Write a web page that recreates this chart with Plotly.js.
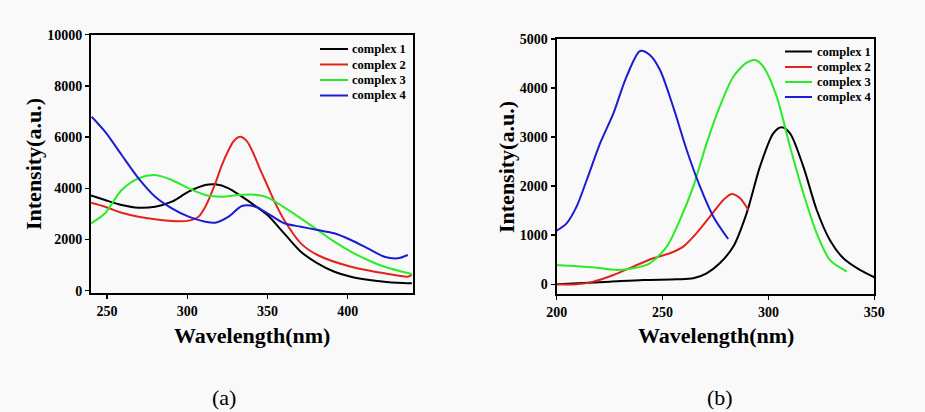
<!DOCTYPE html>
<html><head><meta charset="utf-8">
<script src="https://cdn.plot.ly/plotly-3.0.1.min.js"></script>
<style>html,body{margin:0;padding:0;background:#f9f9f9}#chart{width:925px;height:412px}</style>
</head><body><div id="chart"></div>
<script>
// Panel (a)
const a1x = [240,248.75,259.1,269.6,280,290.4,300.8,311.25,317.5,325.8,334.1,342.5,350,360.4,370.8,381.2,391.7,402,412.5,422.9,431,440];
const a1y = [3720,3543,3348,3242,3281,3477,3867,4129,4155,4000,3672,3307,2957,2240,1523,1070,742,547,430,352,310,289];
const a2x = [240,248.75,259.1,269.6,280,290.4,300.8,307,311.25,317.5,321.5,325.8,329,333,337,341,345,350,355,360.4,370.8,381.2,402,422.9,437.5,440];
const a2y = [3438,3281,3047,2891,2789,2723,2737,2891,3281,4195,4900,5496,5850,6010,5850,5400,4800,4100,3400,2760,1850,1395,938,680,547,625];
const a3x = [240,248.75,259.1,269.6,280,290.4,300.8,311.25,321.7,332.1,342.5,350,360.4,370.8,381.2,391.7,402,412.5,422.9,440];
const a3y = [2630,3023,3933,4390,4519,4324,4000,3738,3672,3738,3750,3648,3257,2828,2371,1914,1523,1199,938,652];
const a4x = [240.4,248.75,259.1,269.6,280,290.4,300.8,311.25,317.5,325.8,334.1,342.5,350,360.4,370.8,381.2,391.7,402,412.5,422.9,431.2,437.5];
const a4y = [6797,6211,5300,4390,3672,3217,2891,2695,2656,2891,3307,3281,3023,2633,2500,2371,2242,1980,1656,1328,1266,1395];
// Panel (b)
const b1x = [200,225.2,240.9,256.7,264.5,270.8,277,283.4,289.7,296,302.3,306.2,310.2,316.5,322.8,329,335.4,343.2,350];
const b1y = [0,54,88,102,122,224,428,768,1447,2398,3077,3200,3077,2398,1515,903,530,292,143];
const b2x = [200,209.4,217.3,226.8,236.2,245.6,253.5,259.8,266,272.4,278.7,282.6,286.6,290.5];
const b2y = [0,0,54,190,360,530,632,768,1039,1379,1719,1841,1753,1515];
const b3x = [200,217.3,228.3,236.2,244,252,258.2,264.5,270.8,277,283.4,289.7,293.7,297.6,303.9,310.2,316.5,322.8,329,337];
const b3y = [394,346,292,326,428,768,1311,1990,2873,3621,4232,4517,4572,4436,3824,2806,1855,1039,496,258];
const b4x = [200,204.7,209.4,214.2,220.5,226.8,233,239.4,244,248.8,255,261.4,267.7,274,281];
const b4y = [1094,1243,1583,2126,2873,3485,4232,4755,4674,4368,3621,2738,1990,1379,924];

const names = ['complex 1','complex 2','complex 3','complex 4'];
const colors = ['#000000','#e3241c','#27ec27','#1c1cd2'];
const aTicksX = [250,300,350,400];
const aTicksY = [0,2000,4000,6000,8000,10000];
const bTicksX = [200,250,300,350];
const bTicksY = [0,1000,2000,3000,4000,5000];
const aX=[a1x,a2x,a3x,a4x], aY=[a1y,a2y,a3y,a4y];
const bX=[b1x,b2x,b3x,b4x], bY=[b1y,b2y,b3y,b4y];

const traces = [];
for (let i=0;i<4;i++) traces.push({x:aX[i],y:aY[i],name:names[i],type:'scatter',mode:'lines',
  line:{color:colors[i],width:2,shape:'spline',smoothing:0.8},xaxis:'x',yaxis:'y',showlegend:false});
for (let i=0;i<4;i++) traces.push({x:bX[i],y:bY[i],name:names[i],type:'scatter',mode:'lines',
  line:{color:colors[i],width:2,shape:'spline',smoothing:0.8},xaxis:'x2',yaxis:'y2',showlegend:false});

const FAM = 'Liberation Serif';
const tf = {family:FAM,size:14,color:'#000',weight:'bold'};
const ax = (extra)=>Object.assign({showgrid:false,zeroline:false,showline:true,linecolor:'#000',linewidth:2,mirror:true,
  ticks:'outside',ticklen:4,tickwidth:1.5,tickcolor:'#000',tickfont:tf,tickmode:'array'},extra);
const lf = {family:FAM,size:12.5,color:'#000',weight:'bold'};
const titleFont = {family:FAM,size:22,color:'#000',weight:'bold'};
const capFont = {family:FAM,size:22,color:'#000'};

const ann = [
  {text:'<b>Intensity(a.u.)</b>',xref:'paper',yref:'paper',x:33/925,y:1-164/412,textangle:-90,showarrow:false,font:titleFont,xanchor:'center',yanchor:'middle'},
  {text:'<b>Wavelength(nm)</b>',xref:'paper',yref:'paper',x:252/925,y:1-335/412,showarrow:false,font:titleFont,xanchor:'center',yanchor:'middle'},
  {text:'<b>Intensity(a.u.)</b>',xref:'paper',yref:'paper',x:507/925,y:1-167/412,textangle:-90,showarrow:false,font:titleFont,xanchor:'center',yanchor:'middle'},
  {text:'<b>Wavelength(nm)</b>',xref:'paper',yref:'paper',x:716/925,y:1-335/412,showarrow:false,font:titleFont,xanchor:'center',yanchor:'middle'},
  {text:'(a)',xref:'paper',yref:'paper',x:224/925,y:1-397/412,showarrow:false,font:capFont,xanchor:'center',yanchor:'middle'},
  {text:'(b)',xref:'paper',yref:'paper',x:720/925,y:1-397/412,showarrow:false,font:capFont,xanchor:'center',yanchor:'middle'}
];
// compact legends (keys + labels) for both panels
const shapes = [];
const legA = {x0:320,x1:348,tx:350,y:[49,64.5,80,95.5]};
const legB = {x0:785,x1:812,tx:815,y:[51.5,67,82,97]};
[legA,legB].forEach(L=>{
  for (let i=0;i<4;i++){
    shapes.push({type:'line',xref:'paper',yref:'paper',x0:L.x0/925,x1:L.x1/925,y0:1-L.y[i]/412,y1:1-L.y[i]/412,line:{color:colors[i],width:2}});
    ann.push({text:'<b>'+names[i]+'</b>',xref:'paper',yref:'paper',x:L.tx/925,y:1-L.y[i]/412,showarrow:false,font:lf,xanchor:'left',yanchor:'middle'});
  }
});

const layout = {
  width:925,height:412,margin:{l:0,r:0,t:0,b:0},
  paper_bgcolor:'#f9f9f9',plot_bgcolor:'#f9f9f9',showlegend:false,
  xaxis: ax({domain:[0.0984,0.4461],range:[240,440.5],tickvals:aTicksX,ticktext:aTicksX.map(String),anchor:'y'}),
  yaxis: ax({domain:[0.2888,0.9158],range:[-90,10000],tickvals:aTicksY,ticktext:aTicksY.map(String),anchor:'x'}),
  xaxis2: ax({domain:[0.6018,0.9452],range:[200,350],tickvals:bTicksX,ticktext:bTicksX.map(String),anchor:'y2'}),
  yaxis2: ax({domain:[0.2864,0.9053],range:[-198,5000],tickvals:bTicksY,ticktext:bTicksY.map(String),anchor:'x2'}),
  annotations:ann, shapes:shapes
};
Plotly.newPlot('chart',traces,layout,{displayModeBar:false,staticPlot:true});
</script></body></html>
